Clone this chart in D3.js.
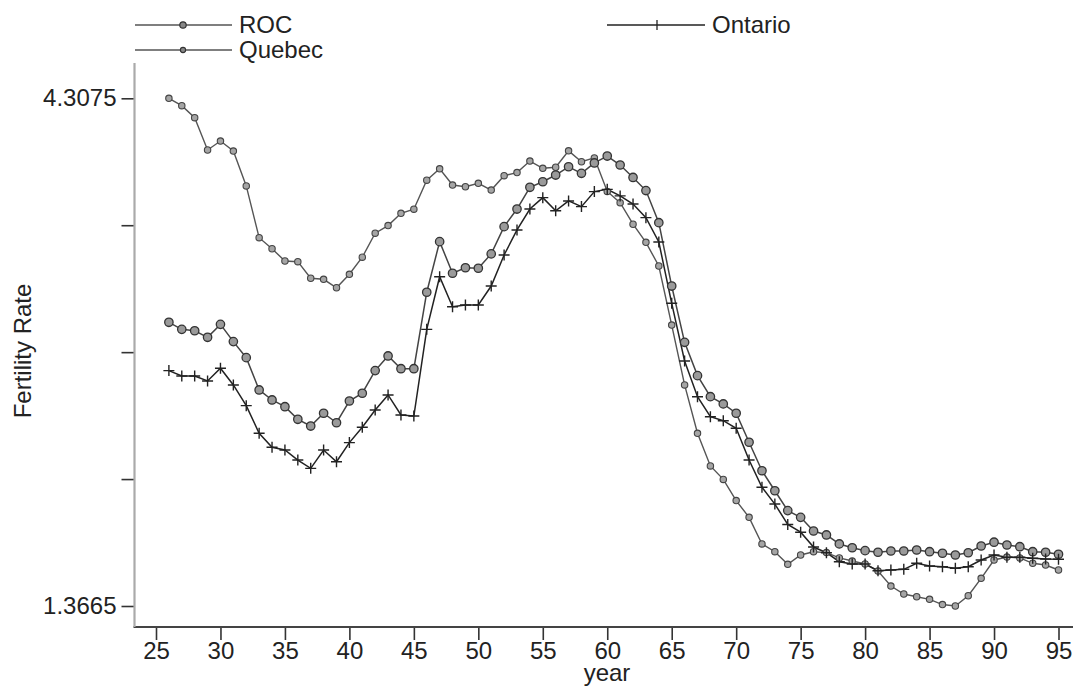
<!DOCTYPE html>
<html>
<head>
<meta charset="utf-8">
<script src="https://cdn.jsdelivr.net/npm/d3@7"></script>
<style>
  body { margin: 0; background: #fff; }
  text { font-family: "Liberation Sans", Arial, sans-serif; fill: #222; }
</style>
</head>
<body>
<svg id="chart" width="1073" height="687"></svg>
<script>
var years = [26, 27, 28, 29, 30, 31, 32, 33, 34, 35, 36, 37, 38, 39, 40, 41, 42, 43, 44, 45,
  46, 47, 48, 49, 50, 51, 52, 53, 54, 55, 56, 57, 58, 59, 60, 61, 62, 63, 64, 65,
  66, 67, 68, 69, 70, 71, 72, 73, 74, 75, 76, 77, 78, 79, 80, 81, 82, 83, 84, 85,
  86, 87, 88, 89, 90, 91, 92, 93, 94, 95];

var roc = [3.010, 2.969, 2.961, 2.923, 2.998, 2.898, 2.805, 2.618, 2.560, 2.521,
  2.448, 2.409, 2.483, 2.428, 2.554, 2.599, 2.730, 2.815, 2.741, 2.741,
  3.184, 3.477, 3.294, 3.326, 3.323, 3.406, 3.564, 3.666, 3.792, 3.824,
  3.863, 3.911, 3.873, 3.933, 3.973, 3.921, 3.849, 3.773, 3.587, 3.220,
  2.894, 2.701, 2.579, 2.537, 2.483, 2.315, 2.150, 2.034, 1.919, 1.880,
  1.801, 1.778, 1.726, 1.704, 1.687, 1.678, 1.685, 1.685, 1.691, 1.681,
  1.672, 1.662, 1.675, 1.714, 1.736, 1.720, 1.710, 1.681, 1.678, 1.666];

var quebec = [4.3075, 4.265, 4.195, 4.008, 4.060, 4.002, 3.800, 3.500, 3.436, 3.365,
  3.361, 3.265, 3.259, 3.210, 3.288, 3.387, 3.526, 3.570, 3.641, 3.665,
  3.833, 3.899, 3.805, 3.795, 3.815, 3.776, 3.859, 3.877, 3.944, 3.902,
  3.908, 4.003, 3.940, 3.962, 3.768, 3.703, 3.578, 3.473, 3.336, 2.994,
  2.647, 2.367, 2.178, 2.100, 1.977, 1.880, 1.726, 1.681, 1.608, 1.662,
  1.681, 1.676, 1.645, 1.627, 1.610, 1.569, 1.482, 1.436, 1.420, 1.405,
  1.375, 1.3665, 1.426, 1.527, 1.633, 1.650, 1.645, 1.614, 1.604, 1.575];

var ontario = [2.730, 2.699, 2.699, 2.670, 2.744, 2.647, 2.527, 2.367, 2.286, 2.270,
  2.212, 2.164, 2.270, 2.202, 2.313, 2.402, 2.502, 2.589, 2.473, 2.467,
  2.969, 3.274, 3.100, 3.110, 3.110, 3.220, 3.400, 3.545, 3.666, 3.732,
  3.656, 3.713, 3.680, 3.767, 3.780, 3.742, 3.695, 3.616, 3.475, 3.120,
  2.786, 2.579, 2.463, 2.440, 2.396, 2.212, 2.054, 1.957, 1.839, 1.794,
  1.708, 1.675, 1.623, 1.610, 1.610, 1.571, 1.575, 1.579, 1.614, 1.598,
  1.594, 1.585, 1.594, 1.633, 1.662, 1.649, 1.649, 1.643, 1.639, 1.637];

var xTicks = [25, 30, 35, 40, 45, 50, 55, 60, 65, 70, 75, 80, 85, 90, 95];
var yTicks = [1.3665, 2.1018, 2.8370, 3.5723, 4.3075];
var yTickLabels = ["1.3665", "", "", "", "4.3075"];

var svg = d3.select("#chart");

var x = d3.scaleLinear().domain([25, 95]).range([156, 1058.5]);
var y = d3.scaleLinear().domain([1.3665, 4.3075]).range([606, 98.3]);

var plotLeft = 134.5, plotBottom = 627, plotTop = 63;

// x axis
var xAxis = svg.append("g")
    .attr("transform", "translate(0," + plotBottom + ")")
    .call(d3.axisBottom(x).tickValues(xTicks).tickSize(13).tickPadding(2).tickSizeOuter(0));
xAxis.select(".domain").remove();
xAxis.selectAll("line").attr("stroke", "#333").attr("stroke-width", 1.6);
xAxis.selectAll("text").style("font-size", "24px").attr("fill", "#222");

svg.append("line")
    .attr("x1", plotLeft - 1).attr("x2", 1073)
    .attr("y1", plotBottom).attr("y2", plotBottom)
    .attr("stroke", "#444").attr("stroke-width", 2);

// y axis
var yAxis = svg.append("g")
    .attr("transform", "translate(" + plotLeft + ",0)")
    .call(d3.axisLeft(y).tickValues(yTicks).tickSize(13).tickPadding(5)
      .tickFormat(function(d, i) { return yTickLabels[i]; }));
yAxis.select(".domain").remove();
yAxis.selectAll("line").attr("stroke", "#333").attr("stroke-width", 1.6);
yAxis.selectAll("text").style("font-size", "24px").attr("fill", "#222");

svg.append("line")
    .attr("x1", plotLeft).attr("x2", plotLeft)
    .attr("y1", plotTop).attr("y2", plotBottom)
    .attr("stroke", "#aaa").attr("stroke-width", 2.2);

svg.append("text")
    .attr("transform", "translate(31,351) rotate(-90)")
    .attr("text-anchor", "middle")
    .style("font-size", "24px")
    .text("Fertility Rate");

svg.append("text")
    .attr("x", 607).attr("y", 681)
    .attr("text-anchor", "middle")
    .style("font-size", "24px")
    .text("year");

// series
var line = d3.line()
    .x(function(d, i) { return x(years[i]); })
    .y(function(d) { return y(d); });

svg.append("path").datum(quebec)
    .attr("d", line).attr("fill", "none")
    .attr("stroke", "#555").attr("stroke-width", 1.4);

svg.append("path").datum(roc)
    .attr("d", line).attr("fill", "none")
    .attr("stroke", "#444").attr("stroke-width", 1.5);

svg.append("path").datum(ontario)
    .attr("d", line).attr("fill", "none")
    .attr("stroke", "#222").attr("stroke-width", 1.5);

svg.append("g").selectAll("circle")
    .data(quebec)
  .enter().append("circle")
    .attr("cx", function(d, i) { return x(years[i]); })
    .attr("cy", function(d) { return y(d); })
    .attr("r", 3.2)
    .attr("fill", "#a5a5a5").attr("stroke", "#444").attr("stroke-width", 1.1);

svg.append("g").selectAll("circle")
    .data(roc)
  .enter().append("circle")
    .attr("cx", function(d, i) { return x(years[i]); })
    .attr("cy", function(d) { return y(d); })
    .attr("r", 4.2)
    .attr("fill", "#9a9a9a").attr("stroke", "#333").attr("stroke-width", 1.3);

svg.append("g").selectAll("path")
    .data(ontario)
  .enter().append("path")
    .attr("transform", function(d, i) { return "translate(" + x(years[i]) + "," + y(d) + ")"; })
    .attr("d", "M-5.5,0H5.5M0,-5.5V5.5")
    .attr("stroke", "#222").attr("stroke-width", 1.4);

// legend
var legend = svg.append("g");

legend.append("line")
    .attr("x1", 135).attr("x2", 232).attr("y1", 25).attr("y2", 25)
    .attr("stroke", "#555").attr("stroke-width", 1.5);
legend.append("circle")
    .attr("cx", 183).attr("cy", 25).attr("r", 3.2)
    .attr("fill", "#888").attr("stroke", "#333").attr("stroke-width", 1.2);
legend.append("text")
    .attr("x", 239).attr("y", 33)
    .style("font-size", "24px")
    .text("ROC");

legend.append("line")
    .attr("x1", 135).attr("x2", 232).attr("y1", 50).attr("y2", 50)
    .attr("stroke", "#555").attr("stroke-width", 1.5);
legend.append("circle")
    .attr("cx", 183).attr("cy", 50).attr("r", 2.6)
    .attr("fill", "#888").attr("stroke", "#333").attr("stroke-width", 1.1);
legend.append("text")
    .attr("x", 239).attr("y", 58)
    .style("font-size", "24px")
    .text("Quebec");

legend.append("line")
    .attr("x1", 607).attr("x2", 705).attr("y1", 25).attr("y2", 25)
    .attr("stroke", "#222").attr("stroke-width", 1.5);
legend.append("path")
    .attr("d", "M657,20V30")
    .attr("stroke", "#222").attr("stroke-width", 1.3);
legend.append("text")
    .attr("x", 712).attr("y", 33)
    .style("font-size", "24px")
    .text("Ontario");
</script>
</body>
</html>
